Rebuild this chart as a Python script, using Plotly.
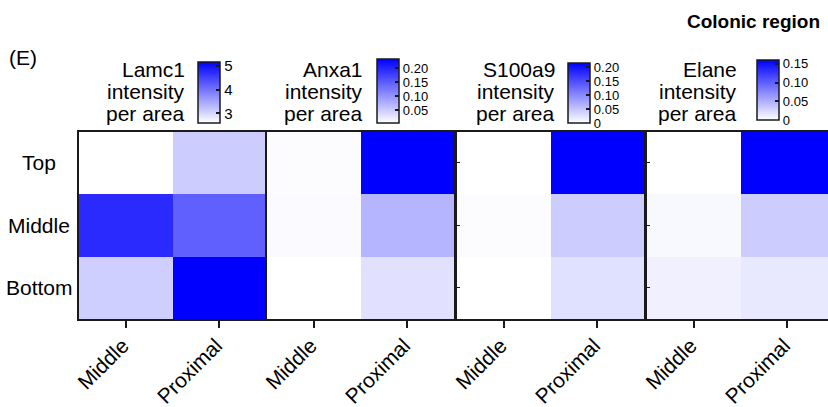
import plotly.graph_objects as go

W, H = 828, 407

# ---------------- data ----------------
regions = ["Middle", "Proximal"]          # x categories (colonic region)
levels = ["Top", "Middle", "Bottom"]      # y categories

markers = ["Lamc1", "Anxa1", "S100a9", "Elane"]

lamc1 = [[2.60, 3.11],
         [4.73, 4.19],
         [3.09, 5.15]]
anxa1 = [[0.0067, 0.232],
         [0.0076, 0.071],
         [0.0040, 0.031]]
s100a9 = [[0.0000, 0.215],
          [0.0024, 0.043],
          [0.0000, 0.026]]
elane = [[0.0000, 0.160],
         [0.0044, 0.032],
         [0.0094, 0.0144]]

values = [lamc1, anxa1, s100a9, elane]
zmins = [2.60, 0.004, 0.0, 0.0]
zmaxs = [5.15, 0.232, 0.215, 0.160]

lamc1_ticks = [3, 4, 5]
lamc1_ticktext = ["3", "4", "5"]
small_ticks = [0.0, 0.05, 0.10, 0.15, 0.20]
small_ticktext = ["0", "0.05", "0.10", "0.15", "0.20"]
tickvals_list = [lamc1_ticks, small_ticks, small_ticks, small_ticks]
ticktext_list = [lamc1_ticktext, small_ticktext, small_ticktext, small_ticktext]

title_lines = ["intensity", "per area"]
header = "Colonic region"
panel_label = "(E)"

# ---------------- layout helpers (pixels -> paper) ----------------
def px(x):
    return x / W

def py(y):
    return 1 - y / H

FONT = "Liberation Sans, Arial, sans-serif"
LINE = "#1a1a1a"

panel_x = [(79, 265), (267, 454), (457, 644), (647, 828)]
cell_w = 93.5
y_top, y_bot = 131.5, 319
cbar_x = [198, 377, 568, 757]
cbar_y = [(62, 123), (59, 123), (63, 123), (60, 120)]
title_right = [187, 365, 557, 739]
title_y = [69, 91, 113]

fig = go.Figure()
layout = dict(
    width=W, height=H,
    margin=dict(l=0, r=0, t=0, b=0, autoexpand=False),
    paper_bgcolor="white", plot_bgcolor="white",
    font=dict(family=FONT, color="black"),
    showlegend=False,
)
annotations = []

colorscale = [[0, "#ffffff"], [1, "#0000ff"]]

for i, name in enumerate(markers):
    n = "" if i == 0 else str(i + 1)
    x0, x1 = panel_x[i]
    xr_end = -0.5 + (x1 - x0) / cell_w
    cy0, cy1 = cbar_y[i]
    fig.add_trace(go.Heatmap(
        z=values[i], x=regions, y=levels,
        zmin=zmins[i], zmax=zmaxs[i],
        colorscale=colorscale,
        xaxis="x" + n, yaxis="y" + n,
        xgap=0, ygap=0,
        colorbar=dict(
            x=px(cbar_x[i]), xanchor="left", xpad=0,
            y=py((cy0 + cy1) / 2), yanchor="middle", ypad=0,
            len=cy1 - cy0, lenmode="pixels",
            thickness=22, thicknessmode="pixels",
            outlinewidth=1.5, outlinecolor=LINE,
            tickvals=tickvals_list[i], ticktext=ticktext_list[i],
            ticks="inside", ticklen=4, tickwidth=1.5, tickcolor=LINE,
            tickfont=dict(size=15 if i == 0 else 13, family=FONT),
        ),
    ))
    layout["xaxis" + n] = dict(
        domain=[px(x0), px(x1)], anchor="y" + n,
        type="category", range=[-0.5, xr_end], automargin=False,
        showline=True, mirror=True, linewidth=2, linecolor=LINE,
        ticks="outside", ticklen=7, tickwidth=2, tickcolor=LINE,
        tickangle=-45, tickfont=dict(size=21, family=FONT),
        ticklabelstandoff=-3, ticklabelshift=-3,
        showgrid=False, zeroline=False, fixedrange=True,
    )
    layout["yaxis" + n] = dict(
        domain=[py(y_bot), py(y_top)], anchor="x" + n,
        type="category", range=[2.5, -0.5], automargin=False,
        showline=True, mirror=(i < 3), linewidth=2, linecolor=LINE,
        showticklabels=False,
        ticks="" if i < 2 else "inside", ticklen=3, tickwidth=1, tickcolor=LINE,
        showgrid=False, zeroline=False, fixedrange=True,
    )
    # colorbar title (three tight lines, right aligned)
    for j, txt in enumerate([name] + title_lines):
        annotations.append(dict(
            text=txt, x=px(title_right[i]), y=py(title_y[j]),
            xref="paper", yref="paper", xanchor="right", yanchor="middle",
            showarrow=False, font=dict(size=21, family=FONT),
        ))

# row labels, centred at the left of the first panel
for lv in levels:
    annotations.append(dict(
        text=lv, x=px(39), y=lv, xref="paper", yref="y",
        xanchor="center", yanchor="middle", showarrow=False,
        font=dict(size=21, family=FONT),
    ))

annotations.append(dict(
    text="<b>" + header + "</b>", x=px(822), y=py(21), xref="paper", yref="paper",
    xanchor="right", yanchor="middle", showarrow=False,
    font=dict(size=19, family=FONT),
))
annotations.append(dict(
    text=panel_label, x=px(7), y=py(57), xref="paper", yref="paper",
    xanchor="left", yanchor="middle", showarrow=False,
    font=dict(size=21, family=FONT),
))

layout["annotations"] = annotations
fig.update_layout(**layout)
fig.write_html(
    "out.html",
    config={"displayModeBar": False},
    post_script="document.body.style.margin='0';document.body.style.overflow='hidden';",
)
